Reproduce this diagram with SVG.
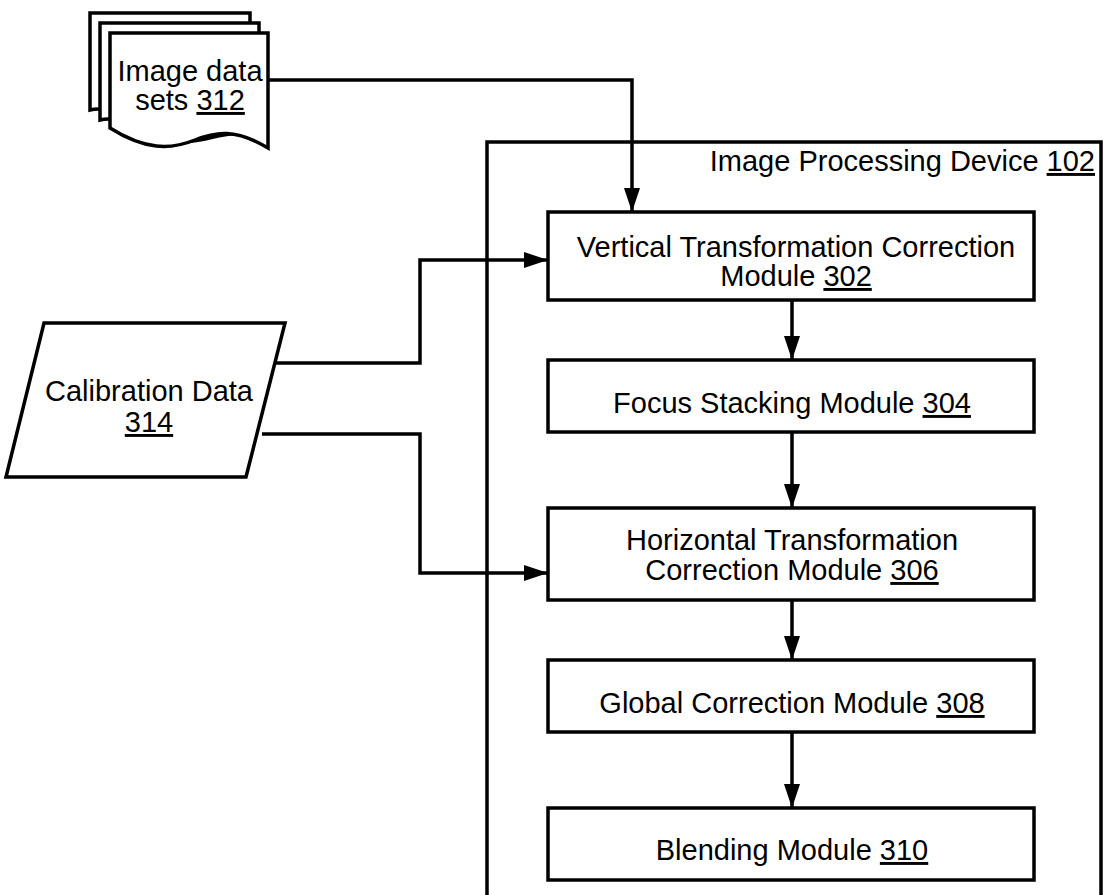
<svg xmlns="http://www.w3.org/2000/svg" width="1108" height="895" viewBox="0 0 1108 895">
<style>
.shape{fill:#fff;stroke:#000;stroke-width:3.5}
.cont{fill:none;stroke:#000;stroke-width:3.5}
.t{font-family:"Liberation Sans",Arial,sans-serif;font-size:29px;fill:#000;text-anchor:middle}
.u{text-decoration:underline}
.edge{fill:none;stroke:#000;stroke-width:3.5}
</style>
<defs>
<marker id="arr" markerUnits="userSpaceOnUse" markerWidth="26" markerHeight="18" refX="24" refY="9" orient="auto">
<path d="M0,1 L24,9 L0,17 Z" fill="#000"/>
</marker>
</defs>
<rect width="1108" height="895" fill="#fff"/>
<g id="image-processing-device">
<path class="cont" d="M487,895 V142 H1101 V895"/>
<text class="t" x="1095" y="171" style="text-anchor:end">Image Processing Device <tspan class="u">102</tspan></text>
</g>
<g id="image-data-sets">
<path class="shape" d="M90,13 H250 V130 C215,112 195,140 160,128 C135,120 110,105 90,110 Z"/>
<path class="shape" d="M100,23 H259 V140 C225,122 205,150 170,138 C145,130 120,115 100,120 Z"/>
<path class="shape" d="M110,33 H268 V148 C235,128 215,132 195,140 C170,150 145,150 110,128 Z"/>
<text class="t" x="190" y="81">Image data</text>
<text class="t" x="190" y="110">sets <tspan class="u">312</tspan></text>
</g>
<g id="calibration-data">
<path class="shape" d="M44,323 H285 L246,477 H6 Z"/>
<text class="t" x="149" y="401">Calibration Data</text>
<text class="t" x="149" y="432"><tspan class="u">314</tspan></text>
</g>
<g id="vtc">
<rect class="shape" x="548" y="212" width="486" height="88"/>
<text class="t" x="796" y="257">Vertical Transformation Correction</text>
<text class="t" x="796" y="286">Module <tspan class="u">302</tspan></text>
</g>
<g id="fsm">
<rect class="shape" x="548" y="360" width="486" height="72"/>
<text class="t" x="792" y="413">Focus Stacking Module <tspan class="u">304</tspan></text>
</g>
<g id="htc">
<rect class="shape" x="548" y="508" width="486" height="92"/>
<text class="t" x="792" y="550">Horizontal Transformation</text>
<text class="t" x="792" y="580">Correction Module <tspan class="u">306</tspan></text>
</g>
<g id="gcm">
<rect class="shape" x="548" y="660" width="486" height="72"/>
<text class="t" x="792" y="713">Global Correction Module <tspan class="u">308</tspan></text>
</g>
<g id="blend">
<rect class="shape" x="548" y="808" width="486" height="72"/>
<text class="t" x="792" y="860">Blending Module <tspan class="u">310</tspan></text>
</g>
<g id="connectors">
<path class="edge" d="M268,80 H632 V212" marker-end="url(#arr)"/>
<path class="edge" d="M274,363 H420 V260 H548" marker-end="url(#arr)"/>
<path class="edge" d="M262,434 H420 V573 H548" marker-end="url(#arr)"/>
<path class="edge" d="M792,300 V360" marker-end="url(#arr)"/>
<path class="edge" d="M792,432 V508" marker-end="url(#arr)"/>
<path class="edge" d="M792,600 V660" marker-end="url(#arr)"/>
<path class="edge" d="M792,732 V808" marker-end="url(#arr)"/>
</g>
</svg>
